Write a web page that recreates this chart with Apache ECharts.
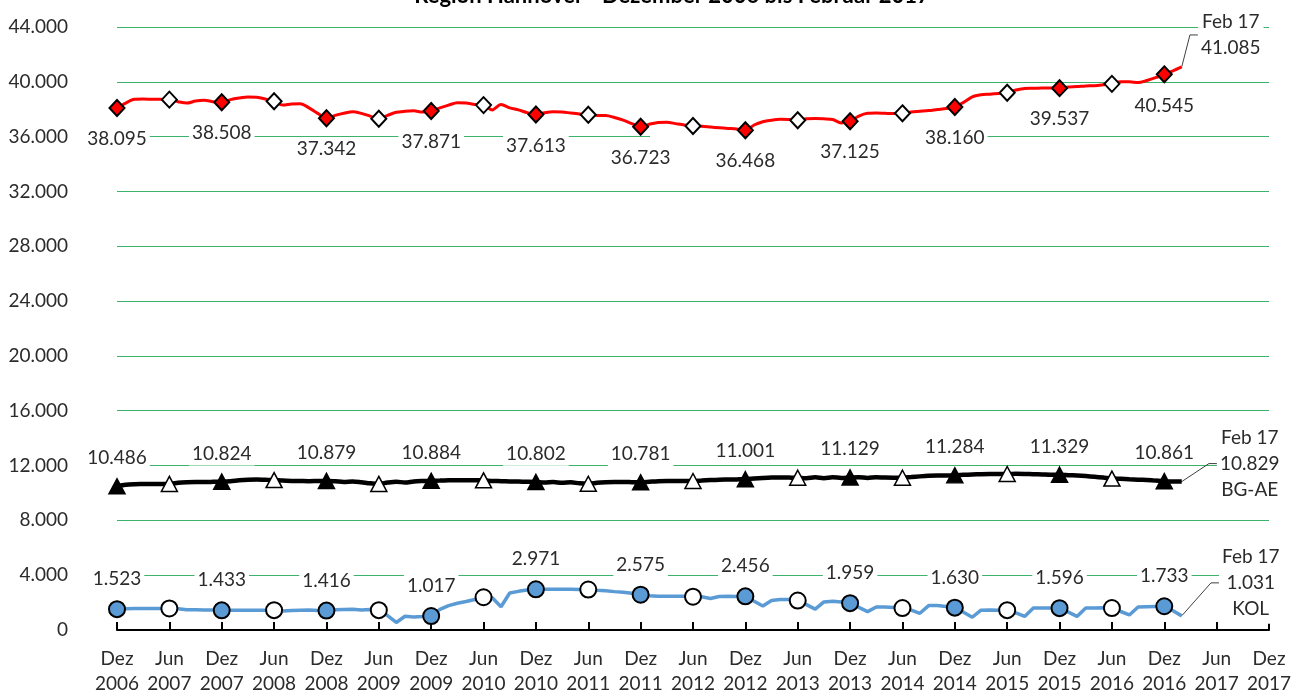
<!DOCTYPE html>
<html>
<head>
<meta charset="utf-8">
<title>Region Hannover</title>
<script src="https://cdn.jsdelivr.net/npm/echarts@6/dist/echarts.min.js"></script>
<style>
  html, body { margin: 0; padding: 0; background: #fff; }
  #chart { width: 1292px; height: 692px; }
</style>
</head>
<body>
<div id="chart"></div>
<script>
// Monatswerte Dez 2006 .. Feb 2017 (123 Monate)
const startYear = 2006;
const monthNames = ['Jan', 'Feb', 'Mrz', 'Apr', 'Mai', 'Jun', 'Jul', 'Aug', 'Sep', 'Okt', 'Nov', 'Dez'];
const endLabelMonth = 'Feb 17';

const gesamt = [
  38095, 38450, 38720, 38740, 38730, 38720,
  38700, 38550, 38450, 38600, 38650, 38550,
  38508, 38700, 38820, 38900, 38880, 38750,
  38580, 38300, 38380, 38400, 38100, 37700,
  37342, 37550, 37700, 37820, 37700, 37500,
  37300, 37550, 37780, 37850, 37880, 37800,
  37871, 38100, 38300, 38480, 38450, 38350,
  38300, 37950, 38350, 38100, 37950, 37750,
  37613, 37750, 37820, 37800, 37720, 37650,
  37600, 37550, 37550, 37400, 37200, 36950,
  36723, 36900, 37040, 37050, 36950, 36850,
  36780, 36750, 36700, 36650, 36600, 36550,
  36468, 36850, 37090, 37200, 37260, 37250,
  37200, 37300, 37320, 37300, 37250, 37000,
  37125, 37500, 37700, 37720, 37700, 37680,
  37700, 37800, 37850, 37900, 37980, 38050,
  38160, 38500, 38900, 39050, 39100, 39150,
  39200, 39400, 39520, 39530, 39550, 39550,
  39537, 39620, 39650, 39700, 39720, 39780,
  39850, 40000, 40000, 39950, 40100, 40300,
  40545, 40800, 41085
];

const bgae = [
  10486, 10600, 10640, 10650, 10660, 10660,
  10660, 10740, 10780, 10800, 10800, 10810,
  10824, 10860, 10920, 10960, 10980, 10960,
  10940, 10900, 10880, 10870, 10860, 10870,
  10879, 10850, 10800, 10840, 10780, 10700,
  10660, 10760, 10820, 10760, 10840, 10870,
  10884, 10900, 10920, 10930, 10930, 10930,
  10920, 10880, 10860, 10840, 10830, 10820,
  10802, 10760, 10800, 10740, 10780, 10700,
  10670, 10740, 10780, 10800, 10800, 10790,
  10781, 10820, 10860, 10880, 10880, 10870,
  10870, 10900, 10940, 10970, 10980, 10990,
  11001, 11050, 11090, 11120, 11130, 11120,
  11110, 11080, 11140, 11080, 11140, 11100,
  11129, 11150, 11100, 11150, 11120, 11110,
  11110, 11160, 11210, 11250, 11270, 11270,
  11284, 11320, 11350, 11370, 11380, 11380,
  11380, 11400, 11390, 11370, 11350, 11330,
  11329, 11300, 11270, 11230, 11180, 11120,
  11050, 11030, 11000, 10970, 10940, 10900,
  10861, 10840, 10829
];

const kol = [
  1523, 1550, 1560, 1560, 1560, 1570,
  1570, 1550, 1480, 1470, 1460, 1460,
  1433, 1450, 1450, 1450, 1450, 1450,
  1450, 1380, 1420, 1450, 1460, 1430,
  1416, 1480, 1500, 1520, 1460, 1500,
  1450, 1050, 550, 1000, 950, 980,
  1017, 1500, 1780, 1950, 2080, 2230,
  2390, 2350, 1700, 2700, 2820, 2920,
  2971, 2970, 2970, 2970, 2970, 2960,
  2950, 2900, 2860, 2800, 2750, 2680,
  2575, 2500, 2460, 2460, 2460, 2460,
  2430, 2420, 2300, 2440, 2460, 2450,
  2456, 2100, 1750, 2150, 2220, 2220,
  2150, 1850, 1520, 2050, 2100, 2050,
  1959, 1650, 1340, 1680, 1680, 1650,
  1600, 1450, 1220, 1780, 1790, 1720,
  1630, 1300, 930, 1450, 1460, 1450,
  1450, 1250, 990, 1600, 1610, 1600,
  1596, 1300, 990, 1600, 1610, 1620,
  1600, 1350, 1100, 1680, 1700, 1720,
  1733, 1400, 1031
];

// Achse: Dez 2006 .. Dez 2017
const categories = [];
for (let i = 0; i <= 132; i++) {
  const m = (11 + i) % 12;
  const y = startYear + Math.floor((11 + i) / 12);
  categories.push(monthNames[m] + ' ' + y);
}

const FONT = 'Lato, "Open Sans", sans-serif';
const TEXT = '#2b2b2b';
const fmt = v => String(Math.round(v)).replace(/\B(?=(\d{3})+(?!\d))/g, '.');

function makeData(values, o) {
  const last = values.length - 1;
  return values.map((v, i) => {
    if (i === last) {
      return {
        value: v,
        symbol: 'circle',
        symbolSize: 1,
        itemStyle: { color: o.line, borderWidth: 0 },
        label: {
          show: true,
          lineHeight: 26,
          formatter: () => endLabelMonth + '\n' + fmt(v) + (o.endName ? '\n' + o.endName : '')
        },
        labelLine: { show: true, length2: 8, lineStyle: { color: '#404040', width: 1 } }
      };
    }
    if (i % 6 !== 0) return { value: v, symbol: 'none' };
    const dez = i % 12 === 0;
    return {
      value: v,
      symbol: o.symbol,
      symbolSize: o.size,
      itemStyle: { color: dez ? o.fill : '#ffffff' },
      label: { show: dez }
    };
  });
}

function makeSeries(name, values, o) {
  const last = values.length - 1;
  return {
    name: name,
    type: 'line',
    data: makeData(values, o),
    smooth: o.smooth,
    showAllSymbol: true,
    lineStyle: { color: o.line, width: o.width },
    itemStyle: { borderColor: '#000', borderWidth: o.border },
    label: {
      show: false,
      position: o.labelPos,
      distance: o.labelDist,
      formatter: p => fmt(p.value),
      fontFamily: FONT,
      fontSize: 19,
      lineHeight: 20,
      color: TEXT,
      backgroundColor: '#ffffff',
      padding: [2, 3]
    },
    // Endbeschriftung (Feb 17) seitlich versetzt mit Führungslinie
    labelLayout: function (p) {
      if (p.dataIndex !== last) return {};
      return {
        x: p.rect.x + p.rect.width / 2 + o.endShift[0],
        y: p.rect.y + p.rect.height / 2 + o.endShift[1],
        align: 'center',
        verticalAlign: 'middle'
      };
    },
    emphasis: { disabled: true },
    z: o.z
  };
}

const chart = echarts.init(document.getElementById('chart'));

chart.setOption({
  animation: false,
  textStyle: { fontFamily: FONT },
  graphic: [{
    type: 'text',
    x: 672,
    y: 7,
    style: {
      text: 'Region Hannover - Dezember 2006 bis Februar 2017',
      fontFamily: FONT,
      fontWeight: 'bold',
      fontSize: 22,
      fill: '#000',
      align: 'center',
      verticalAlign: 'bottom'
    }
  }, {
    // im Original ist die 36.000-Linie hier unterbrochen
    type: 'rect',
    z: 1,
    shape: { x: 650, y: 134, width: 275, height: 5 },
    style: { fill: '#ffffff' }
  }],
  grid: { left: 117, right: 23, top: 27, bottom: 62, outerBoundsMode: 'none' },
  xAxis: {
    type: 'category',
    data: categories,
    boundaryGap: false,
    axisLine: { lineStyle: { color: '#000', width: 2 } },
    axisTick: { inside: true, length: 8, interval: 5, lineStyle: { color: '#000', width: 2 } },
    axisLabel: {
      interval: 5,
      margin: 16,
      fontFamily: FONT,
      fontSize: 19,
      lineHeight: 25,
      color: TEXT,
      formatter: v => v.replace(' ', '\n')
    },
    splitLine: { show: false }
  },
  yAxis: {
    type: 'value',
    min: 0,
    max: 44000,
    interval: 4000,
    axisLine: { show: false },
    axisTick: { show: false },
    axisLabel: {
      margin: 49,
      fontFamily: FONT,
      fontSize: 19,
      color: TEXT,
      formatter: v => (v === 0 ? '0' : fmt(v))
    },
    splitLine: { lineStyle: { color: '#3DB26B', width: 1 } }
  },
  series: [
    makeSeries('Gesamt', gesamt, {
      symbol: 'diamond', size: [15, 16], fill: '#FF0000', line: '#FF0000', width: 3, border: 2,
      smooth: 0.3, labelPos: 'bottom', labelDist: 10, endShift: [49, -32], endName: '', z: 3
    }),
    makeSeries('BG-AE', bgae, {
      symbol: 'triangle', size: [16, 15], fill: '#000000', line: '#000000', width: 4.5, border: 1.5,
      smooth: 0.3, labelPos: 'top', labelDist: 8, endShift: [68, -18], endName: 'BG-AE', z: 4
    }),
    makeSeries('KOL', kol, {
      symbol: 'circle', size: 16, fill: '#5B9BD5', line: '#5B9BD5', width: 3.5, border: 2,
      smooth: false, labelPos: 'top', labelDist: 9, endShift: [69, -33], endName: 'KOL', z: 5
    })
  ]
});
</script>
</body>
</html>
